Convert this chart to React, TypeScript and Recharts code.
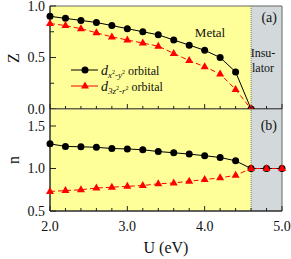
import React from 'react';
import { ComposedChart, Line, XAxis, YAxis, ReferenceArea, ReferenceLine, Legend } from 'recharts';

// U (eV) values
const uMetal = [2.0, 2.2, 2.4, 2.6, 2.8, 3.0, 3.2, 3.4, 3.6, 3.8, 4.0, 4.2, 4.4, 4.6];
const uInsulator = [4.8, 5.0];

// quasiparticle weight Z
const zX2Y2 = [0.9, 0.88, 0.86, 0.84, 0.81, 0.78, 0.75, 0.72, 0.67, 0.62, 0.57, 0.5, 0.36, 0.0];
const z3Z2R2 = [0.83, 0.81, 0.78, 0.74, 0.7, 0.67, 0.64, 0.61, 0.54, 0.47, 0.41, 0.34, 0.19, 0.0];

// occupation n
const nX2Y2 = [1.29, 1.26, 1.255, 1.25, 1.235, 1.23, 1.22, 1.2, 1.185, 1.17, 1.15, 1.13, 1.09, 1.0, 1.0, 1.0];
const n3Z2R2 = [0.73, 0.74, 0.75, 0.77, 0.78, 0.79, 0.8, 0.82, 0.83, 0.85, 0.87, 0.89, 0.92, 1.0, 1.0, 1.0];

const uTicks = [2.0, 2.2, 2.4, 2.6, 2.8, 3.0, 3.2, 3.4, 3.6, 3.8, 4.0, 4.2, 4.4, 4.6, 4.8, 5.0];
const uLabels = ['2.0', '3.0', '4.0', '5.0'];
const zTicks = [0, 0.25, 0.5, 0.75, 1.0];
const zLabels = ['0.0', '0.5', '1.0'];
const nTicks = [0.5, 1.0, 1.5];
const nLabels = ['0.5', '1.0', '1.5'];
const uTransition = 4.6;

const FONT = 'Liberation Serif';
const YELLOW = '#ffff99';
const GRAY = '#d3d9db';

const uAll = [...uMetal, ...uInsulator];
const dataZ = uMetal.map((u, i) => ({ u, a: zX2Y2[i], b: z3Z2R2[i] }));
const dataN = uAll.map((u, i) => ({ u, a: nX2Y2[i], b: n3Z2R2[i] }));

const XTick = ({ x, y, payload, showLabel }: any) => {
  const v = payload.value;
  const major = Math.abs(v - Math.round(v)) < 1e-6;
  const lab = v.toFixed(1);
  return (
    <g>
      <line x1={x} x2={x} y1={y} y2={y - (major ? 5 : 3)} stroke="#222" />
      {showLabel && uLabels.includes(lab) && (
        <text x={x} y={y + 20} textAnchor="middle" fontFamily={FONT} fontSize={14} fill="#111">
          {lab}
        </text>
      )}
    </g>
  );
};

const YTick = ({ x, y, payload, labels }: any) => {
  const v = payload.value;
  const lab = v.toFixed(1);
  const major = Math.abs(v * 2 - Math.round(v * 2)) < 1e-6;
  return (
    <g>
      <line x1={x} x2={x + (major ? 6 : 4)} y1={y} y2={y} stroke="#222" />
      {labels.includes(lab) && (
        <text x={x - 5} y={y} dy="0.35em" textAnchor="end" fontFamily={FONT} fontSize={14} fill="#111">
          {lab}
        </text>
      )}
    </g>
  );
};

const circleDot = (p: any) => <circle key={`c${p.index}`} cx={p.cx} cy={p.cy} r={3.5} fill="#000" />;
const triDot = (p: any) => (
  <polygon
    key={`t${p.index}`}
    points={`${p.cx},${p.cy - 4.5} ${p.cx - 4},${p.cy + 2.5} ${p.cx + 4},${p.cy + 2.5}`}
    fill="#ff0000"
  />
);

const Sub = ({ a, b }: { a: string; b: string }) => (
  <span>
    <i style={{ fontSize: 14 }}>d</i>
    <span style={{ fontSize: 9, position: 'relative', top: 3 }}>
      <i>{a}</i>
      <sup style={{ fontSize: 6 }}>2</sup>-<i>{b}</i>
      <sup style={{ fontSize: 6 }}>2</sup>
    </span>
    <span> orbital</span>
  </span>
);

const LegendBox = () => (
  <div style={{ fontFamily: FONT, fontSize: 12, color: '#111', lineHeight: '16px' }}>
    <div style={{ display: 'flex', alignItems: 'center', height: 16 }}>
      <svg width={30} height={12}>
        <line x1={0} x2={27} y1={6} y2={6} stroke="#000" />
        <circle cx={14} cy={6} r={3.5} fill="#000" />
      </svg>
      <Sub a="x" b="y" />
    </div>
    <div style={{ display: 'flex', alignItems: 'center', height: 16 }}>
      <svg width={30} height={12}>
        <line x1={0} x2={27} y1={6} y2={6} stroke="#ff0000" />
        <polygon points="14,1.5 10,8.5 18,8.5" fill="#ff0000" />
      </svg>
      <Sub a="3z" b="r" />
    </div>
  </div>
);

const Note = ({ left, top, width, size, align, children }: any) => (
  <div
    style={{
      position: 'absolute',
      left,
      top,
      width,
      textAlign: align,
      fontFamily: FONT,
      fontSize: size,
      lineHeight: '16px',
      color: '#111',
      pointerEvents: 'none',
    }}
  >
    {children}
  </div>
);

export default function App() {
  return (
    <div style={{ position: 'absolute', left: 0, top: 0, width: 291, height: 259, background: '#fff', fontFamily: FONT }}>
      <div style={{ position: 'absolute', left: 0, top: 0 }}>
        <ComposedChart width={291} height={130} data={dataZ} margin={{ top: 6, right: 9, bottom: 0, left: 0 }}>
          <ReferenceArea x1={2} x2={uTransition} y1={0} y2={1} fill={YELLOW} fillOpacity={1} stroke="none" />
          <ReferenceArea x1={uTransition} x2={5} y1={0} y2={1} fill={GRAY} fillOpacity={1} stroke="none" />
          <ReferenceArea x1={2} x2={5} y1={0} y2={1} fill="none" stroke="#666" />
          <ReferenceLine x={uTransition} stroke="#777" strokeDasharray="1 1" />
          <XAxis
            type="number"
            dataKey="u"
            domain={[2, 5]}
            ticks={uTicks}
            interval={0}
            height={21}
            tickSize={0}
            tickMargin={0}
            tickLine={false}
            axisLine={{ stroke: '#111' }}
            tick={(p: any) => <XTick {...p} showLabel={false} />}
          />
          <YAxis
            type="number"
            domain={[0, 1]}
            ticks={zTicks}
            interval={0}
            width={50}
            tickSize={0}
            tickMargin={0}
            tickLine={false}
            axisLine={{ stroke: '#111' }}
            tick={(p: any) => <YTick {...p} labels={zLabels} />}
          />
          <Line type="linear" dataKey="a" stroke="#000" strokeWidth={1} dot={circleDot} isAnimationActive={false} />
          <Line
            type="linear"
            dataKey="b"
            stroke="#ff0000"
            strokeWidth={1}
            strokeDasharray="5 3"
            dot={triDot}
            isAnimationActive={false}
          />
          <Legend
            layout="vertical"
            align="center"
            verticalAlign="middle"
            content={() => <LegendBox />}
            wrapperStyle={{ left: 71, top: 62, width: 110 }}
          />
          <text x={13} y={58} transform="rotate(-90, 13, 58)" textAnchor="middle" dy="0.35em" fontFamily={FONT} fontSize={16} fill="#111">
            Z
          </text>
        </ComposedChart>
      </div>
      <div style={{ position: 'absolute', left: 0, top: 109 }}>
        <ComposedChart width={291} height={150} data={dataN} margin={{ top: 0, right: 9, bottom: 0, left: 0 }}>
          <ReferenceArea x1={2} x2={uTransition} y1={0.5} y2={1.7} fill={YELLOW} fillOpacity={1} stroke="none" />
          <ReferenceArea x1={uTransition} x2={5} y1={0.5} y2={1.7} fill={GRAY} fillOpacity={1} stroke="none" />
          <ReferenceArea x1={2} x2={5} y1={0.5} y2={1.7} fill="none" stroke="#666" />
          <ReferenceLine x={uTransition} stroke="#777" strokeDasharray="1 1" />
          <XAxis
            type="number"
            dataKey="u"
            domain={[2, 5]}
            ticks={uTicks}
            interval={0}
            height={48}
            tickSize={0}
            tickMargin={0}
            tickLine={false}
            axisLine={{ stroke: '#111' }}
            tick={(p: any) => <XTick {...p} showLabel />}
          />
          <YAxis
            type="number"
            domain={[0.5, 1.7]}
            ticks={nTicks}
            interval={0}
            width={50}
            tickSize={0}
            tickMargin={0}
            tickLine={false}
            axisLine={{ stroke: '#111' }}
            tick={(p: any) => <YTick {...p} labels={nLabels} />}
          />
          <Line type="linear" dataKey="a" stroke="#000" strokeWidth={1} dot={circleDot} isAnimationActive={false} />
          <Line
            type="linear"
            dataKey="b"
            stroke="#ff0000"
            strokeWidth={1}
            strokeDasharray="5 3"
            dot={triDot}
            isAnimationActive={false}
          />
          <text x={13} y={51} transform="rotate(-90, 13, 51)" textAnchor="middle" dy="0.35em" fontFamily={FONT} fontSize={16} fill="#111">
            n
          </text>
          <text x={166} y={144} textAnchor="middle" fontFamily={FONT} fontSize={16} fill="#111">
            U (eV)
          </text>
        </ComposedChart>
      </div>
      <Note left={185} top={25} width={50} size={13} align="center">Metal</Note>
      <Note left={240} top={10} width={37} size={14} align="right">(a)</Note>
      <Note left={243} top={45} width={40} size={12} align="center">Insu-</Note>
      <Note left={243} top={60} width={40} size={12} align="center">lator</Note>
      <Note left={240} top={118} width={37} size={14} align="right">(b)</Note>
    </div>
  );
}
